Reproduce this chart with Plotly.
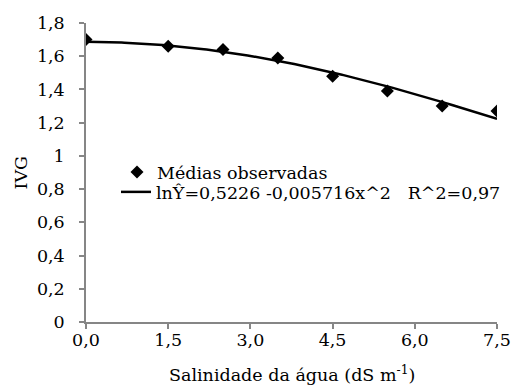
import numpy as np
import plotly.graph_objects as go

# Observed means
salinidade = [0.0, 1.5, 2.5, 3.5, 4.5, 5.5, 6.5, 7.5]
ivg_obs = [1.70, 1.66, 1.64, 1.59, 1.48, 1.39, 1.30, 1.27]

# Fitted model: ln(Y) = b0 + b2 * x^2
b0 = 0.5226
b2 = -0.005716
r2 = 0.97

x_ticks = [0.0, 1.5, 3.0, 4.5, 6.0, 7.5]
x_tick_labels = ["0,0", "1,5", "3,0", "4,5", "6,0", "7,5"]
y_ticks = [0, 0.2, 0.4, 0.6, 0.8, 1.0, 1.2, 1.4, 1.6, 1.8]
y_tick_labels = ["0", "0,2", "0,4", "0,6", "0,8", "1", "1,2", "1,4", "1,6", "1,8"]

x_title = "Salinidade da água (dS m<sup>-1</sup>)"
y_title = "IVG"

x_fit = np.linspace(0, 7.5, 151)
y_fit = np.exp(b0 + b2 * x_fit ** 2)

def br(v, fmt):
    return fmt.format(v).replace(".", ",")

eq_label = ("lnŶ=" + br(b0, "{:.4f}") + " -" + br(abs(b2), "{:.6f}") + "x^2"
            + "\u00a0\u00a0\u00a0R^2=" + br(r2, "{:.2f}"))

FONT = "DejaVu Serif"
FS = 17.5
AXIS_COLOR = "#868686"
W, H = 512, 385
txt = dict(family=FONT, size=FS, color="black")

fig = go.Figure()
fig.add_trace(go.Scatter(
    x=salinidade, y=ivg_obs, mode="markers", name="Médias observadas",
    marker=dict(symbol="diamond", size=10, color="black"),
    legend="legend",
))
fig.add_trace(go.Scatter(
    x=x_fit, y=y_fit, mode="lines", name=eq_label,
    line=dict(color="black", width=2.5),
    legend="legend2",
))

# legend boxes placed in container pixels
leg_common = dict(xref="container", yref="container", xanchor="left", yanchor="top",
                  bgcolor="rgba(0,0,0,0)", borderwidth=0, font=txt)

fig.update_layout(
    width=W, height=H,
    margin=dict(l=86, r=15, t=23, b=63, autoexpand=False),
    paper_bgcolor="white", plot_bgcolor="white",
    font=txt,
    legend=dict(x=117 / W, y=1 - 154 / H, **leg_common),
    legend2=dict(x=116 / W, y=1 - 174 / H, **leg_common),
    showlegend=True,
)
fig.update_xaxes(
    range=[0, 7.5], tickvals=x_ticks, ticktext=x_tick_labels,
    showgrid=False, zeroline=False,
    showline=True, linecolor=AXIS_COLOR, linewidth=1.5,
    ticks="outside", ticklen=5, tickcolor=AXIS_COLOR, tickwidth=1.5,
    tickfont=txt,
    ticklabelstandoff=-4,
)
fig.update_yaxes(
    range=[0, 1.8], tickvals=y_ticks, ticktext=y_tick_labels,
    showgrid=False, zeroline=False,
    showline=True, linecolor=AXIS_COLOR, linewidth=1.5,
    ticks="outside", ticklen=5, tickcolor=AXIS_COLOR, tickwidth=1.5,
    tickfont=txt,
    ticklabelstandoff=11,
)

# axis titles as annotations (pixel positions inside the container)
fig.add_annotation(text=x_title, font=txt, showarrow=False,
                   xref="paper", x=0.5, xanchor="center",
                   yref="paper", y=(322 - 374) / 299, yanchor="middle")
fig.add_annotation(text=y_title, font=txt, showarrow=False, textangle=-90,
                   xref="paper", x=(20 - 86) / 411, xanchor="center",
                   yref="paper", y=0.5, yanchor="middle")

fig.write_html("out.html")
